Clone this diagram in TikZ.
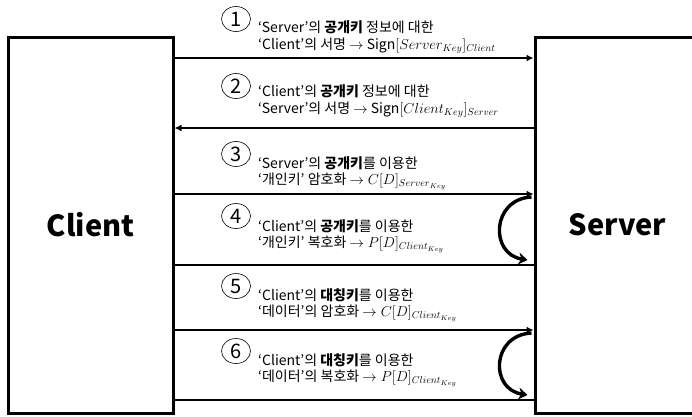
\documentclass[tikz,border=0pt]{standalone}
\usepackage{fontspec}
\setmainfont{Noto Sans CJK KR}
\usetikzlibrary{arrows.meta,shapes.geometric}
\newcommand{\mi}[1]{\mathnormal{#1}}
\begin{document}
\begin{tikzpicture}[x=1pt,y=-1pt,
  box/.style={draw,line width=3pt,inner sep=0pt,font=\fontsize{29}{32}\selectfont\bfseries},
  msg/.style={line width=2pt,-{Latex[length=7pt,width=7pt]}},
  sep/.style={line width=1.6pt},
  num/.style={draw,ellipse,line width=0.6pt,minimum width=29pt,minimum height=25pt,inner sep=0pt,font=\fontsize{20}{20}\selectfont},
  lbl/.style={anchor=west,align=left,inner sep=0pt,font=\fontsize{14}{16.5}\selectfont},
  loop/.style={line width=3.4pt,-{Stealth[length=9pt,width=12pt]}}]
\useasboundingbox (0,0) rectangle (692,416);
\node[box,minimum width=164.5pt,minimum height=376pt] (client) at (90.75,225) {Client};
\node[box,minimum width=165pt,minimum height=376pt] (server) at (617.5,225) {Server};
% connectors
\draw[msg] (client.east |- 0,58) coordinate (a1s) -- (server.west |- 0,58) coordinate (a1e);
\draw[msg] (server.west |- 0,128) coordinate (a2s) -- (client.east |- 0,128) coordinate (a2e);
\draw[msg] (client.east |- 0,194) coordinate (a3s) -- (server.west |- 0,194) coordinate (a3e);
\draw[sep] (client.east |- 0,265) coordinate (a4s) -- (server.west |- 0,265) coordinate (a4e);
\draw[msg] (client.east |- 0,330) coordinate (a5s) -- (server.west |- 0,330) coordinate (a5e);
\draw[sep] (client.east |- 0,400) coordinate (a6s) -- (server.west |- 0,400) coordinate (a6e);
% loops
\draw[loop] ([shift={(-2,3)}]a3e) .. controls +(-40,2) and +(-38,-6) .. ([shift={(-6,-5)}]a4e);
\draw[loop] ([shift={(-2,3)}]a5e) .. controls +(-40,2) and +(-38,-6) .. ([shift={(-6,-5)}]a6e);
% numbers
\node[num] (n1) at (236,19) {1};
\node[num] (n2) at (236,86) {2};
\node[num] (n3) at (236,154) {3};
\node[num] (n4) at (236,216) {4};
\node[num] (n5) at (236,286) {5};
\node[num] (n6) at (236,351) {6};
% labels
\node[lbl] (l1) at (258,37) {‘Server’의 \textbf{공개키} 정보에 대한\\‘Client’의 서명 $\to$ Sign$[\mi{Server}_{\mi{Key}}]_{\mi{Client}}$};
\node[lbl] (l2) at (258,101) {‘Client’의 \textbf{공개키} 정보에 대한\\‘Server’의 서명 $\to$ Sign$[\mi{Client}_{\mi{Key}}]_{\mi{Server}}$};
\node[lbl] (l3) at (258,173) {‘Server’의 \textbf{공개키}를 이용한\\‘개인키’ 암호화 $\to C[D]_{\mi{Server}_{\mi{Key}}}$};
\node[lbl] (l4) at (258,236) {‘Client’의 \textbf{공개키}를 이용한\\‘개인키’ 복호화 $\to P[D]_{\mi{Client}_{\mi{Key}}}$};
\node[lbl] (l5) at (258,305) {‘Client’의 \textbf{대칭키}를 이용한\\‘데이터’의 암호화 $\to C[D]_{\mi{Client}_{\mi{Key}}}$};
\node[lbl] (l6) at (258,370) {‘Client’의 \textbf{대칭키}를 이용한\\‘데이터’의 복호화 $\to P[D]_{\mi{Client}_{\mi{Key}}}$};
\end{tikzpicture}
\end{document}
